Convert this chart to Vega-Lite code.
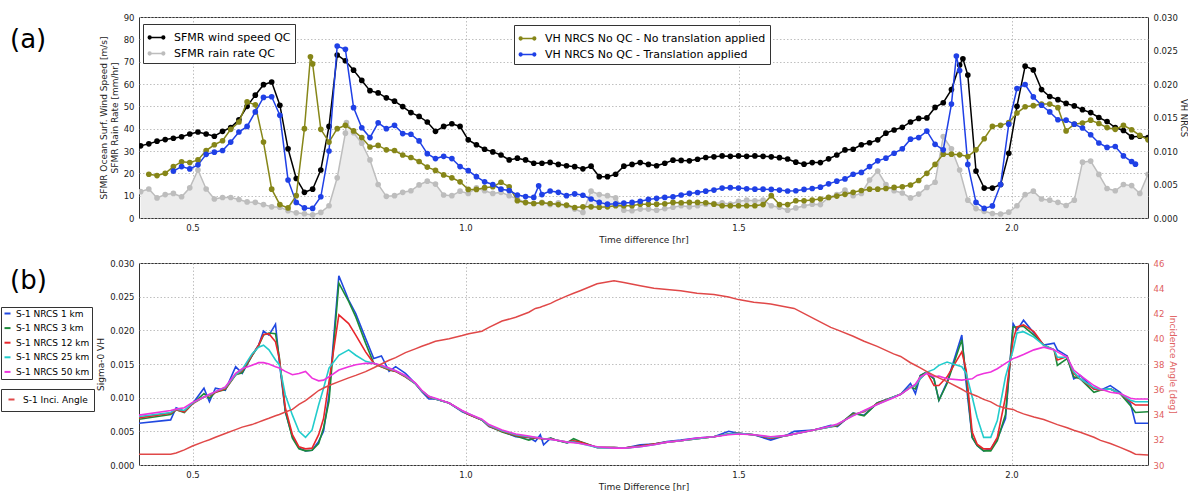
{
 "$schema": "https://vega.github.io/schema/vega-lite/v6.json",
 "padding": {"left": 0, "top": 12, "right": 0, "bottom": 0},
 "spacing": 13,
 "config": {
  "font": "DejaVu Sans",
  "view": {"stroke": "#333333", "strokeWidth": 1},
  "axis": {"labelFont": "DejaVu Sans", "labelFontSize": 8.5, "labelColor": "#222222", "titleFont": "DejaVu Sans", "titleFontSize": 9, "titleFontWeight": "normal", "titleColor": "#222222", "ticks": false, "domain": false, "gridColor": "#b0b0b0", "gridDash": [1.5, 2], "gridWidth": 0.8, "labelPadding": 5, "titlePadding": 4},
  "legend": {"labelFont": "DejaVu Sans", "strokeColor": "#333333", "fillColor": "#ffffff", "padding": 4, "cornerRadius": 0, "strokeWidth": 1, "titleFontSize": 0, "labelLimit": 400},
  "title": {"font": "DejaVu Sans", "color": "#000000"}
 },
 "datasets": {
  "a": [
   {"t":0.405,"ws":32.3,"rr":11.8,"nt":null,"tr":null},
   {"t":0.42,"ws":33.2,"rr":13,"nt":0.00653,"tr":null},
   {"t":0.435,"ws":34.4,"rr":9,"nt":0.00633,"tr":null},
   {"t":0.45,"ws":35.1,"rr":10.5,"nt":0.00667,"tr":null},
   {"t":0.465,"ws":35.7,"rr":11,"nt":0.00767,"tr":0.007},
   {"t":0.48,"ws":36.4,"rr":9.5,"nt":0.0084,"tr":0.00767},
   {"t":0.495,"ws":37.6,"rr":13.5,"nt":0.00827,"tr":0.00733},
   {"t":0.51,"ws":38.5,"rr":21.5,"nt":0.00867,"tr":0.00793},
   {"t":0.525,"ws":37.6,"rr":13,"nt":0.01007,"tr":0.0095},
   {"t":0.54,"ws":36.6,"rr":8.5,"nt":0.01093,"tr":0.00983},
   {"t":0.555,"ws":38.8,"rr":9.2,"nt":0.01153,"tr":0.01007},
   {"t":0.57,"ws":40.5,"rr":9.2,"nt":0.01323,"tr":0.01133},
   {"t":0.585,"ws":44,"rr":8.3,"nt":0.01433,"tr":0.01283},
   {"t":0.6,"ws":50,"rr":7.2,"nt":0.01733,"tr":0.01367},
   {"t":0.615,"ws":55,"rr":7,"nt":0.0169,"tr":0.01583},
   {"t":0.63,"ws":59.7,"rr":6,"nt":0.01133,"tr":0.018},
   {"t":0.645,"ws":60.9,"rr":5,"nt":0.0043,"tr":0.0181},
   {"t":0.66,"ws":50.5,"rr":4.8,"nt":0.002,"tr":0.01533},
   {"t":0.675,"ws":31,"rr":3.3,"nt":0.0015,"tr":0.00567},
   {"t":0.69,"ws":17.7,"rr":2.3,"nt":0.00333,"tr":0.00233},
   {"t":0.705,"ws":11.5,"rr":1.9,"nt":0.01333,"tr":0.0015},
   {"t":0.72,"ws":12.9,"rr":1.4,"nt":0.023,"tr":0.00143},
   {"t":0.735,"ws":21.5,"rr":2.5,"nt":0.01323,"tr":0.00317},
   {"t":0.75,"ws":41,"rr":5.5,"nt":0.01133,"tr":0.01},
   {"t":0.765,"ws":73,"rr":18,"nt":0.01333,"tr":0.02567},
   {"t":0.78,"ws":70.4,"rr":38,"nt":0.01383,"tr":0.02517},
   {"t":0.795,"ws":66.2,"rr":38.2,"nt":0.013,"tr":0.01647},
   {"t":0.81,"ws":61.6,"rr":33.5,"nt":0.012,"tr":0.01347},
   {"t":0.825,"ws":57,"rr":26,"nt":0.0106,"tr":0.012},
   {"t":0.84,"ws":56,"rr":15,"nt":0.01083,"tr":0.0142},
   {"t":0.855,"ws":53.8,"rr":9.7,"nt":0.01017,"tr":0.01333},
   {"t":0.87,"ws":52.3,"rr":10,"nt":0.01007,"tr":0.01383},
   {"t":0.885,"ws":49.9,"rr":11.5,"nt":0.0094,"tr":0.0126},
   {"t":0.9,"ws":47.2,"rr":12.2,"nt":0.00903,"tr":0.0125},
   {"t":0.915,"ws":45.5,"rr":14.8,"nt":0.00843,"tr":0.0115},
   {"t":0.93,"ws":43,"rr":16.5,"nt":0.0076,"tr":0.0096},
   {"t":0.945,"ws":38.8,"rr":15.2,"nt":0.0071,"tr":0.00887},
   {"t":0.96,"ws":41,"rr":10.3,"nt":0.00643,"tr":0.0092},
   {"t":0.975,"ws":42.2,"rr":10,"nt":0.006,"tr":0.00887},
   {"t":0.99,"ws":41,"rr":12,"nt":0.0054,"tr":0.00767},
   {"t":1.005,"ws":35,"rr":11,"nt":0.00427,"tr":0.00707},
   {"t":1.02,"ws":32.8,"rr":13.5,"nt":0.00427,"tr":0.00617},
   {"t":1.035,"ws":30.8,"rr":12.2,"nt":0.00453,"tr":0.0054},
   {"t":1.05,"ws":29.6,"rr":11,"nt":0.00467,"tr":0.005},
   {"t":1.065,"ws":28.2,"rr":11.5,"nt":0.00533,"tr":0.0043},
   {"t":1.08,"ws":26,"rr":10,"nt":0.00467,"tr":0.0041},
   {"t":1.095,"ws":26.8,"rr":8.5,"nt":0.00257,"tr":0.00343},
   {"t":1.11,"ws":26,"rr":7,"nt":0.0023,"tr":0.0032},
   {"t":1.125,"ws":24.5,"rr":6.5,"nt":0.00217,"tr":0.00307},
   {"t":1.14,"ws":24.5,"rr":7,"nt":0.00227,"tr":0.0035},
   {"t":1.155,"ws":24.9,"rr":6,"nt":0.00217,"tr":0.00403},
   {"t":1.17,"ws":24,"rr":6.8,"nt":0.002,"tr":0.00383},
   {"t":1.185,"ws":23.4,"rr":5.5,"nt":0.00193,"tr":0.00333},
   {"t":1.2,"ws":23,"rr":4,"nt":0.00157,"tr":0.0036},
   {"t":1.215,"ws":22,"rr":2.5,"nt":0.00167,"tr":0.0034},
   {"t":1.23,"ws":23.2,"rr":12,"nt":0.00167,"tr":0.00283},
   {"t":1.245,"ws":18.5,"rr":10.5,"nt":0.0016,"tr":0.00233},
   {"t":1.26,"ws":18.5,"rr":10,"nt":0.00167,"tr":0.00207},
   {"t":1.275,"ws":19.6,"rr":9,"nt":0.00183,"tr":0.00213},
   {"t":1.29,"ws":23.2,"rr":3.5,"nt":0.00183,"tr":0.00223},
   {"t":1.305,"ws":24,"rr":3.3,"nt":0.00183,"tr":0.00233},
   {"t":1.32,"ws":24.8,"rr":4,"nt":0.00207,"tr":0.0025},
   {"t":1.335,"ws":24,"rr":4,"nt":0.00207,"tr":0.00277},
   {"t":1.35,"ws":23.4,"rr":3.5,"nt":0.00207,"tr":0.00293},
   {"t":1.365,"ws":24.5,"rr":4.2,"nt":0.00213,"tr":0.00307},
   {"t":1.38,"ws":25.9,"rr":4.8,"nt":0.00233,"tr":0.00317},
   {"t":1.395,"ws":25.8,"rr":5.5,"nt":0.00227,"tr":0.00343},
   {"t":1.41,"ws":25.6,"rr":5,"nt":0.00233,"tr":0.00367},
   {"t":1.425,"ws":26.3,"rr":5.5,"nt":0.00233,"tr":0.0038},
   {"t":1.44,"ws":27.1,"rr":6.2,"nt":0.00227,"tr":0.004},
   {"t":1.455,"ws":27.4,"rr":6.5,"nt":0.00207,"tr":0.00417},
   {"t":1.47,"ws":27.8,"rr":6.8,"nt":0.00183,"tr":0.00447},
   {"t":1.485,"ws":27.6,"rr":6.2,"nt":0.00183,"tr":0.00453},
   {"t":1.5,"ws":27.8,"rr":7.5,"nt":0.00183,"tr":0.00447},
   {"t":1.515,"ws":27.6,"rr":8,"nt":0.00183,"tr":0.00437},
   {"t":1.53,"ws":27.8,"rr":7.7,"nt":0.00183,"tr":0.0043},
   {"t":1.545,"ws":27.6,"rr":8,"nt":0.002,"tr":0.0043},
   {"t":1.56,"ws":27.4,"rr":5.5,"nt":0.00333,"tr":0.00427},
   {"t":1.575,"ws":27,"rr":4.8,"nt":0.002,"tr":0.00417},
   {"t":1.59,"ws":26.4,"rr":3.5,"nt":0.002,"tr":0.00403},
   {"t":1.605,"ws":25,"rr":4.5,"nt":0.00257,"tr":0.00407},
   {"t":1.62,"ws":24.1,"rr":5.5,"nt":0.00257,"tr":0.00427},
   {"t":1.635,"ws":24.8,"rr":6.2,"nt":0.00267,"tr":0.0044},
   {"t":1.65,"ws":24.8,"rr":6,"nt":0.00283,"tr":0.0046},
   {"t":1.665,"ws":26.5,"rr":9.2,"nt":0.00307,"tr":0.0051},
   {"t":1.68,"ws":28.2,"rr":10.5,"nt":0.00327,"tr":0.0055},
   {"t":1.695,"ws":30.5,"rr":12.5,"nt":0.00353,"tr":0.00583},
   {"t":1.71,"ws":30.8,"rr":10,"nt":0.00383,"tr":0.00653},
   {"t":1.725,"ws":32.8,"rr":11,"nt":0.0041,"tr":0.0068},
   {"t":1.74,"ws":33.7,"rr":17,"nt":0.0043,"tr":0.00767},
   {"t":1.755,"ws":35,"rr":21,"nt":0.0043,"tr":0.00853},
   {"t":1.77,"ws":38,"rr":15,"nt":0.0044,"tr":0.00893},
   {"t":1.785,"ws":39.4,"rr":12.2,"nt":0.00457,"tr":0.00967},
   {"t":1.8,"ws":40.6,"rr":11.2,"nt":0.00467,"tr":0.01033},
   {"t":1.815,"ws":43,"rr":9,"nt":0.00493,"tr":0.01177},
   {"t":1.83,"ws":44.6,"rr":10.7,"nt":0.0056,"tr":0.012},
   {"t":1.845,"ws":44.8,"rr":13.7,"nt":0.00667,"tr":0.01297},
   {"t":1.86,"ws":49.5,"rr":16,"nt":0.008,"tr":0.011},
   {"t":1.875,"ws":51.6,"rr":36.5,"nt":0.00953,"tr":0.01017},
   {"t":1.89,"ws":57.5,"rr":31,"nt":0.00953,"tr":0.017},
   {"t":1.905,"ws":68.5,"rr":21.5,"nt":0.00943,"tr":0.022},
   {"t":1.92,"ws":64,"rr":8,"nt":0.00917,"tr":0.008},
   {"t":1.935,"ws":21,"rr":4.2,"nt":0.01017,"tr":0.00233},
   {"t":1.95,"ws":13.4,"rr":3,"nt":0.01183,"tr":0.00143},
   {"t":1.965,"ws":13.4,"rr":2,"nt":0.01367,"tr":0.0018},
   {"t":1.98,"ws":15,"rr":1.8,"nt":0.01383,"tr":0.005},
   {"t":1.995,"ws":29,"rr":2.6,"nt":0.01423,"tr":0.014},
   {"t":2.01,"ws":50,"rr":5.5,"nt":0.01567,"tr":0.01933},
   {"t":2.025,"ws":68,"rr":10.5,"nt":0.0166,"tr":0.01993},
   {"t":2.04,"ws":66.3,"rr":12,"nt":0.01677,"tr":0.01807},
   {"t":2.055,"ws":57.5,"rr":8.5,"nt":0.017,"tr":0.01683},
   {"t":2.07,"ws":54.4,"rr":8,"nt":0.017,"tr":0.01583},
   {"t":2.085,"ws":53,"rr":7,"nt":0.01647,"tr":0.01467},
   {"t":2.1,"ws":51.3,"rr":5.6,"nt":0.013,"tr":0.0146},
   {"t":2.115,"ws":50.2,"rr":8,"nt":0.014,"tr":0.014},
   {"t":2.13,"ws":48.5,"rr":25,"nt":0.01417,"tr":0.01343},
   {"t":2.145,"ws":47.2,"rr":25.5,"nt":0.0146,"tr":0.01243},
   {"t":2.16,"ws":45,"rr":19.5,"nt":0.0141,"tr":0.0112},
   {"t":2.175,"ws":43.2,"rr":13.2,"nt":0.0135,"tr":0.01053},
   {"t":2.19,"ws":40.5,"rr":12.2,"nt":0.01323,"tr":0.01067},
   {"t":2.205,"ws":39.2,"rr":15,"nt":0.01383,"tr":0.00927},
   {"t":2.22,"ws":36.3,"rr":14.5,"nt":0.01317,"tr":0.00843},
   {"t":2.235,"ws":36.6,"rr":11,"nt":0.01233,"tr":null},
   {"t":2.25,"ws":36,"rr":19.6,"nt":0.01167,"tr":null},
   {"t":0.716,"ws":null,"rr":null,"nt":0.02407,"tr":null},
   {"t":0.782,"ws":null,"rr":42.7,"nt":null,"tr":null},
   {"t":1.134,"ws":null,"rr":null,"nt":null,"tr":0.0048},
   {"t":1.899,"ws":null,"rr":null,"nt":null,"tr":0.02417},
   {"t":1.911,"ws":71.3,"rr":null,"nt":null,"tr":null},
   {"t":2.227,"ws":null,"rr":null,"nt":null,"tr":0.00803}
  ],
  "b": [
   {"t":0.402,"n1":0.0062,"n3":0.0068,"n12":0.007,"n25":0.0072,"n50":0.0074,"ang":30.85},
   {"t":0.46,"n1":0.0067,"n3":0.0075,"n12":0.0077,"n25":0.0078,"n50":0.0081,"ang":30.85},
   {"t":0.47,"n1":0.0085,"n3":0.0082,"n12":0.0082,"n25":0.0083,"n50":0.0083,"ang":30.95},
   {"t":0.485,"n1":0.008,"n3":0.0078,"n12":0.0079,"n25":0.0081,"n50":0.0085,"ang":31.2},
   {"t":0.5,"n1":0.0091,"n3":0.0091,"n12":0.0091,"n25":0.0092,"n50":0.0093,"ang":31.5},
   {"t":0.521,"n1":0.0114,"n3":0.0106,"n12":0.0101,"n25":0.0101,"n50":0.0101,"ang":31.85},
   {"t":0.531,"n1":0.0094,"n3":0.0099,"n12":0.0103,"n25":0.0104,"n50":0.0105,"ang":32.0},
   {"t":0.542,"n1":0.0114,"n3":0.0108,"n12":0.0108,"n25":0.0109,"n50":0.0109,"ang":32.2},
   {"t":0.56,"n1":0.0111,"n3":0.0112,"n12":0.0113,"n25":0.0115,"n50":0.0116,"ang":32.5},
   {"t":0.579,"n1":0.0146,"n3":0.0134,"n12":0.0134,"n25":0.0134,"n50":0.0136,"ang":32.8},
   {"t":0.591,"n1":0.0136,"n3":0.0137,"n12":0.014,"n25":0.0142,"n50":0.0143,"ang":33.0},
   {"t":0.609,"n1":0.0163,"n3":0.0162,"n12":0.0163,"n25":0.0165,"n50":0.0148,"ang":33.2},
   {"t":0.621,"n1":0.0178,"n3":0.0177,"n12":0.0178,"n25":0.0175,"n50":0.0152,"ang":33.4},
   {"t":0.63,"n1":0.0199,"n3":0.0193,"n12":0.0194,"n25":0.0178,"n50":0.0152,"ang":33.55},
   {"t":0.64,"n1":0.0193,"n3":0.0196,"n12":0.0195,"n25":0.0171,"n50":0.015,"ang":33.7},
   {"t":0.652,"n1":0.0209,"n3":0.0195,"n12":0.0183,"n25":0.0156,"n50":0.0146,"ang":33.9},
   {"t":0.659,"n1":0.0153,"n3":0.016,"n12":0.0158,"n25":0.0149,"n50":0.0144,"ang":34.0},
   {"t":0.67,"n1":0.0079,"n3":0.008,"n12":0.0085,"n25":0.0104,"n50":0.0139,"ang":34.2},
   {"t":0.683,"n1":0.0042,"n3":0.004,"n12":0.0045,"n25":0.0074,"n50":0.0134,"ang":34.4},
   {"t":0.695,"n1":0.0025,"n3":0.0024,"n12":0.0027,"n25":0.005,"n50":0.0136,"ang":34.8},
   {"t":0.707,"n1":0.0021,"n3":0.0021,"n12":0.0024,"n25":0.0041,"n50":0.0139,"ang":35.1},
   {"t":0.719,"n1":0.0022,"n3":0.0022,"n12":0.0025,"n25":0.0052,"n50":0.0129,"ang":35.5},
   {"t":0.731,"n1":0.0035,"n3":0.0032,"n12":0.0045,"n25":0.0089,"n50":0.0125,"ang":35.9},
   {"t":0.74,"n1":0.005,"n3":0.0055,"n12":0.0069,"n25":0.0114,"n50":0.0126,"ang":36.1},
   {"t":0.75,"n1":0.0104,"n3":0.0095,"n12":0.0124,"n25":0.0144,"n50":0.0131,"ang":36.3},
   {"t":0.768,"n1":0.0281,"n3":0.027,"n12":0.0223,"n25":0.0163,"n50":0.0141,"ang":36.6},
   {"t":0.786,"n1":0.0245,"n3":0.0243,"n12":0.021,"n25":0.0171,"n50":0.0146,"ang":36.9},
   {"t":0.799,"n1":0.0225,"n3":0.022,"n12":0.0193,"n25":0.0163,"n50":0.0149,"ang":37.1},
   {"t":0.817,"n1":0.0188,"n3":0.0181,"n12":0.0168,"n25":0.0154,"n50":0.0151,"ang":37.4},
   {"t":0.832,"n1":0.0158,"n3":0.0151,"n12":0.0151,"n25":0.0151,"n50":0.0151,"ang":37.7},
   {"t":0.846,"n1":0.0162,"n3":0.0146,"n12":0.0146,"n25":0.0147,"n50":0.0148,"ang":38.0},
   {"t":0.86,"n1":0.0139,"n3":0.0141,"n12":0.0142,"n25":0.0143,"n50":0.0144,"ang":38.3},
   {"t":0.872,"n1":0.0146,"n3":0.0139,"n12":0.0139,"n25":0.014,"n50":0.014,"ang":38.5},
   {"t":0.89,"n1":0.0136,"n3":0.0131,"n12":0.0131,"n25":0.0132,"n50":0.0133,"ang":38.9},
   {"t":0.908,"n1":0.0121,"n3":0.0121,"n12":0.0121,"n25":0.0121,"n50":0.0122,"ang":39.2},
   {"t":0.92,"n1":0.0109,"n3":0.011,"n12":0.011,"n25":0.011,"n50":0.0111,"ang":39.4},
   {"t":0.933,"n1":0.0098,"n3":0.0101,"n12":0.0101,"n25":0.0102,"n50":0.0102,"ang":39.6},
   {"t":0.945,"n1":0.0098,"n3":0.0098,"n12":0.0098,"n25":0.0098,"n50":0.0099,"ang":39.8},
   {"t":0.97,"n1":0.0092,"n3":0.0092,"n12":0.0092,"n25":0.0092,"n50":0.0092,"ang":40.0},
   {"t":0.994,"n1":0.0079,"n3":0.008,"n12":0.008,"n25":0.008,"n50":0.0081,"ang":40.25},
   {"t":1.006,"n1":0.0075,"n3":0.0075,"n12":0.0075,"n25":0.0076,"n50":0.0076,"ang":40.4},
   {"t":1.03,"n1":0.0067,"n3":0.0067,"n12":0.0067,"n25":0.0067,"n50":0.0068,"ang":40.6},
   {"t":1.043,"n1":0.0057,"n3":0.0058,"n12":0.0058,"n25":0.0059,"n50":0.006,"ang":40.9},
   {"t":1.067,"n1":0.005,"n3":0.0049,"n12":0.005,"n25":0.0051,"n50":0.0052,"ang":41.4},
   {"t":1.092,"n1":0.0042,"n3":0.0043,"n12":0.0044,"n25":0.0045,"n50":0.0046,"ang":41.7},
   {"t":1.116,"n1":0.0041,"n3":0.0037,"n12":0.0041,"n25":0.0042,"n50":0.0043,"ang":42.1},
   {"t":1.128,"n1":0.0035,"n3":0.004,"n12":0.004,"n25":0.0041,"n50":0.0041,"ang":42.4},
   {"t":1.137,"n1":0.0045,"n3":0.004,"n12":0.0039,"n25":0.004,"n50":0.004,"ang":42.5},
   {"t":1.143,"n1":0.003,"n3":0.0038,"n12":0.0039,"n25":0.0039,"n50":0.0039,"ang":42.6},
   {"t":1.156,"n1":0.004,"n3":0.004,"n12":0.0039,"n25":0.0038,"n50":0.0038,"ang":42.8},
   {"t":1.165,"n1":0.0037,"n3":0.0037,"n12":0.0037,"n25":0.0037,"n50":0.0037,"ang":43.0},
   {"t":1.186,"n1":0.0033,"n3":0.0033,"n12":0.0034,"n25":0.0034,"n50":0.0034,"ang":43.4},
   {"t":1.198,"n1":0.0035,"n3":0.0039,"n12":0.0036,"n25":0.0034,"n50":0.0033,"ang":43.6},
   {"t":1.21,"n1":0.0034,"n3":0.0035,"n12":0.0034,"n25":0.0032,"n50":0.0032,"ang":43.8},
   {"t":1.241,"n1":0.0026,"n3":0.0026,"n12":0.0026,"n25":0.0026,"n50":0.0027,"ang":44.35},
   {"t":1.272,"n1":0.0026,"n3":0.0026,"n12":0.0026,"n25":0.0025,"n50":0.0025,"ang":44.6},
   {"t":1.29,"n1":0.0025,"n3":0.0025,"n12":0.0025,"n25":0.0025,"n50":0.0025,"ang":44.45},
   {"t":1.32,"n1":0.003,"n3":0.0028,"n12":0.0028,"n25":0.0027,"n50":0.0027,"ang":44.2},
   {"t":1.345,"n1":0.0031,"n3":0.0031,"n12":0.0031,"n25":0.003,"n50":0.003,"ang":44.0},
   {"t":1.369,"n1":0.0035,"n3":0.0034,"n12":0.0034,"n25":0.0034,"n50":0.0034,"ang":43.9},
   {"t":1.394,"n1":0.0037,"n3":0.0036,"n12":0.0036,"n25":0.0036,"n50":0.0036,"ang":43.8},
   {"t":1.424,"n1":0.004,"n3":0.0039,"n12":0.0039,"n25":0.0039,"n50":0.004,"ang":43.6},
   {"t":1.455,"n1":0.0042,"n3":0.0042,"n12":0.0042,"n25":0.0042,"n50":0.0042,"ang":43.5},
   {"t":1.482,"n1":0.005,"n3":0.0046,"n12":0.0046,"n25":0.0046,"n50":0.0045,"ang":43.3},
   {"t":1.5,"n1":0.0047,"n3":0.0047,"n12":0.0047,"n25":0.0047,"n50":0.0046,"ang":43.1},
   {"t":1.528,"n1":0.0045,"n3":0.0045,"n12":0.0045,"n25":0.0045,"n50":0.0045,"ang":42.9},
   {"t":1.559,"n1":0.0037,"n3":0.004,"n12":0.004,"n25":0.0041,"n50":0.0042,"ang":42.75},
   {"t":1.59,"n1":0.0045,"n3":0.0044,"n12":0.0044,"n25":0.0044,"n50":0.0044,"ang":42.5},
   {"t":1.602,"n1":0.005,"n3":0.0046,"n12":0.0046,"n25":0.0046,"n50":0.0046,"ang":42.4},
   {"t":1.638,"n1":0.0052,"n3":0.0052,"n12":0.0052,"n25":0.0052,"n50":0.0052,"ang":41.6},
   {"t":1.669,"n1":0.0059,"n3":0.0057,"n12":0.0057,"n25":0.0057,"n50":0.0058,"ang":40.9},
   {"t":1.681,"n1":0.0057,"n3":0.0058,"n12":0.0059,"n25":0.006,"n50":0.0061,"ang":40.7},
   {"t":1.71,"n1":0.0077,"n3":0.0077,"n12":0.0075,"n25":0.0074,"n50":0.0073,"ang":40.2},
   {"t":1.73,"n1":0.0074,"n3":0.0073,"n12":0.0079,"n25":0.008,"n50":0.0081,"ang":39.8},
   {"t":1.754,"n1":0.0092,"n3":0.0092,"n12":0.0091,"n25":0.009,"n50":0.009,"ang":39.4},
   {"t":1.784,"n1":0.0101,"n3":0.0101,"n12":0.0101,"n25":0.0101,"n50":0.01,"ang":38.8},
   {"t":1.797,"n1":0.0105,"n3":0.0105,"n12":0.0105,"n25":0.0105,"n50":0.0105,"ang":38.6},
   {"t":1.815,"n1":0.0121,"n3":0.0116,"n12":0.0116,"n25":0.0116,"n50":0.0115,"ang":38.1},
   {"t":1.824,"n1":0.0106,"n3":0.0113,"n12":0.0118,"n25":0.0118,"n50":0.012,"ang":37.9},
   {"t":1.833,"n1":0.0133,"n3":0.0133,"n12":0.0128,"n25":0.0128,"n50":0.0131,"ang":37.7},
   {"t":1.845,"n1":0.0138,"n3":0.0138,"n12":0.0138,"n25":0.0138,"n50":0.0136,"ang":37.4},
   {"t":1.858,"n1":0.0128,"n3":0.0128,"n12":0.0118,"n25":0.0142,"n50":0.0131,"ang":37.1},
   {"t":1.867,"n1":0.0096,"n3":0.0096,"n12":0.0118,"n25":0.0148,"n50":0.0132,"ang":36.9},
   {"t":1.882,"n1":0.0123,"n3":0.0121,"n12":0.0131,"n25":0.0153,"n50":0.0128,"ang":36.6},
   {"t":1.909,"n1":0.0193,"n3":0.0186,"n12":0.0168,"n25":0.0146,"n50":0.0126,"ang":36.0},
   {"t":1.917,"n1":0.0121,"n3":0.0131,"n12":0.0141,"n25":0.0136,"n50":0.0127,"ang":35.8},
   {"t":1.928,"n1":0.0041,"n3":0.0041,"n12":0.0049,"n25":0.0101,"n50":0.0128,"ang":35.6},
   {"t":1.937,"n1":0.0029,"n3":0.0029,"n12":0.0031,"n25":0.0071,"n50":0.0133,"ang":35.45},
   {"t":1.949,"n1":0.0021,"n3":0.0021,"n12":0.0024,"n25":0.0041,"n50":0.0136,"ang":35.2},
   {"t":1.962,"n1":0.0024,"n3":0.0021,"n12":0.0024,"n25":0.0041,"n50":0.0138,"ang":35.0},
   {"t":1.974,"n1":0.0039,"n3":0.0036,"n12":0.0041,"n25":0.0066,"n50":0.0143,"ang":34.7},
   {"t":1.989,"n1":0.0069,"n3":0.0075,"n12":0.0101,"n25":0.0131,"n50":0.0151,"ang":34.5},
   {"t":2.003,"n1":0.021,"n3":0.0205,"n12":0.0186,"n25":0.0171,"n50":0.0158,"ang":34.4},
   {"t":2.01,"n1":0.02,"n3":0.0205,"n12":0.0205,"n25":0.0196,"n50":0.016,"ang":34.25},
   {"t":2.022,"n1":0.0215,"n3":0.0206,"n12":0.0208,"n25":0.0198,"n50":0.0164,"ang":34.05},
   {"t":2.041,"n1":0.0196,"n3":0.0193,"n12":0.0198,"n25":0.019,"n50":0.0171,"ang":33.8},
   {"t":2.059,"n1":0.0178,"n3":0.0178,"n12":0.0178,"n25":0.0178,"n50":0.0175,"ang":33.6},
   {"t":2.078,"n1":0.0181,"n3":0.0171,"n12":0.0171,"n25":0.0171,"n50":0.0171,"ang":33.3},
   {"t":2.084,"n1":0.0171,"n3":0.0148,"n12":0.0156,"n25":0.016,"n50":0.0168,"ang":33.2},
   {"t":2.102,"n1":0.0162,"n3":0.0158,"n12":0.0161,"n25":0.016,"n50":0.016,"ang":32.95},
   {"t":2.114,"n1":0.0128,"n3":0.0131,"n12":0.0136,"n25":0.0138,"n50":0.0141,"ang":32.75},
   {"t":2.126,"n1":0.0133,"n3":0.0128,"n12":0.0128,"n25":0.0128,"n50":0.0133,"ang":32.6},
   {"t":2.151,"n1":0.0113,"n3":0.0108,"n12":0.0113,"n25":0.0115,"n50":0.0118,"ang":32.2},
   {"t":2.163,"n1":0.0111,"n3":0.0111,"n12":0.0111,"n25":0.0112,"n50":0.0113,"ang":31.95},
   {"t":2.181,"n1":0.0118,"n3":0.0113,"n12":0.0113,"n25":0.0113,"n50":0.0108,"ang":31.7},
   {"t":2.199,"n1":0.0108,"n3":0.0106,"n12":0.0106,"n25":0.0106,"n50":0.0106,"ang":31.4},
   {"t":2.218,"n1":0.0091,"n3":0.0088,"n12":0.0094,"n25":0.0096,"n50":0.0099,"ang":31.05},
   {"t":2.227,"n1":0.0062,"n3":0.0078,"n12":0.0089,"n25":0.0094,"n50":0.0098,"ang":30.85},
   {"t":2.25,"n1":0.0062,"n3":0.0079,"n12":0.0089,"n25":0.0094,"n50":0.0098,"ang":30.8}
  ]
 },
 "vconcat": [
  {
   "width": 1009,
   "height": 201,
   "title": {"text": "(a)", "orient": "top", "anchor": "start", "frame": "group", "dx": -129, "dy": 40, "baseline": "top", "offset": 0, "fontSize": 26, "fontWeight": "normal"},
   "data": {"name": "a"},
   "layer": [
    {
     "transform": [{"fold": ["ws", "rr"], "as": ["key", "value"]}, {"filter": "isValid(datum.value)"}],
     "encoding": {
      "x": {"field": "t", "type": "quantitative", "scale": {"domain": [0.402, 2.25], "nice": false, "zero": false}, "axis": {"values": [0.5, 1.0, 1.5, 2.0], "format": ".1f", "title": "Time difference [hr]", "grid": true}},
      "y": {"field": "value", "type": "quantitative", "scale": {"domain": [0, 90], "nice": false}, "axis": {"values": [0, 10, 20, 30, 40, 50, 60, 70, 80, 90], "format": "d", "grid": true, "title": ["SFMR Ocean Surf. Wind Speed [m/s]", "SFMR Rain Rate [mm/hr]"], "titleLineHeight": 11}}
     },
     "layer": [
      {"transform": [{"filter": "datum.key === 'rr'"}], "mark": {"type": "area", "color": "#ececec", "clip": true}},
      {
       "mark": {"type": "line", "strokeWidth": 1.5, "clip": true, "point": {"filled": true, "size": 32}},
       "encoding": {
        "color": {"field": "key", "type": "nominal", "scale": {"domain": ["ws", "rr"], "range": ["#000000", "#bdbdbd"]},
         "legend": {"orient": "none", "legendX": 4, "legendY": 7, "title": null, "labelFontSize": 11, "labelExpr": "datum.value === 'ws' ? 'SFMR wind speed QC' : 'SFMR rain rate QC'", "symbolType": "M-1,0L1,0M-0.95,0a0.16,0.16 0 1,0 0.32,0a0.16,0.16 0 1,0 -0.32,0M0.63,0a0.16,0.16 0 1,0 0.32,0a0.16,0.16 0 1,0 -0.32,0", "symbolSize": 300, "symbolStrokeWidth": 1.5, "rowPadding": 1, "labelOffset": 8,
          "encode": {"symbols": {"update": {"fill": {"signal": "datum.value === 'ws' ? '#000000' : '#bdbdbd'"}, "stroke": {"signal": "datum.value === 'ws' ? '#000000' : '#bdbdbd'"}, "fillOpacity": {"value": 1}, "strokeOpacity": {"value": 1}}}}}
        }
       }
      }
     ]
    },
    {
     "transform": [{"fold": ["nt", "tr"], "as": ["key", "value"]}, {"filter": "isValid(datum.value)"}],
     "mark": {"type": "line", "strokeWidth": 1.5, "clip": true, "point": {"filled": true, "size": 32}},
     "encoding": {
      "x": {"field": "t", "type": "quantitative", "scale": {"domain": [0.402, 2.25], "nice": false, "zero": false}, "axis": {"values": [0.5, 1.0, 1.5, 2.0], "format": ".1f", "title": "Time difference [hr]", "grid": true}},
      "y": {"field": "value", "type": "quantitative", "scale": {"domain": [0, 0.03], "nice": false}, "axis": {"orient": "right", "values": [0, 0.005, 0.01, 0.015, 0.02, 0.025, 0.03], "format": ".3f", "grid": false, "title": "VH NRCS", "titlePadding": 1, "titleFontSize": 8.5}},
      "color": {"field": "key", "type": "nominal", "scale": {"domain": ["nt", "tr"], "range": ["#868618", "#1f40e6"]},
       "legend": {"orient": "none", "legendX": 375, "legendY": 8, "title": null, "labelFontSize": 11, "labelExpr": "datum.value === 'nt' ? 'VH NRCS No QC - No translation applied' : 'VH NRCS No QC  - Translation applied'", "symbolType": "M-1,0L1,0M-0.95,0a0.16,0.16 0 1,0 0.32,0a0.16,0.16 0 1,0 -0.32,0M0.63,0a0.16,0.16 0 1,0 0.32,0a0.16,0.16 0 1,0 -0.32,0", "symbolSize": 300, "symbolStrokeWidth": 1.5, "rowPadding": 1, "labelOffset": 8,
        "encode": {"symbols": {"update": {"fill": {"signal": "datum.value === 'nt' ? '#868618' : '#1f40e6'"}, "stroke": {"signal": "datum.value === 'nt' ? '#868618' : '#1f40e6'"}, "fillOpacity": {"value": 1}, "strokeOpacity": {"value": 1}}}}}
      }
     }
    }
   ],
   "resolve": {"scale": {"y": "independent", "color": "independent"}}
  },
  {
   "width": 1009,
   "height": 202,
   "title": {"text": "(b)", "orient": "top", "anchor": "start", "frame": "group", "dx": -129, "dy": 35, "baseline": "top", "offset": 0, "fontSize": 26, "fontWeight": "normal"},
   "data": {"name": "b"},
   "layer": [
    {
     "transform": [{"fold": ["n1", "n3", "n12", "n25", "n50"], "as": ["key", "value"]}],
     "mark": {"type": "line", "strokeWidth": 1.6, "clip": true},
     "encoding": {
      "x": {"field": "t", "type": "quantitative", "scale": {"domain": [0.402, 2.25], "nice": false, "zero": false}, "axis": {"values": [0.5, 1.0, 1.5, 2.0], "format": ".1f", "title": "Time Difference [hr]", "grid": true}},
      "y": {"field": "value", "type": "quantitative", "scale": {"domain": [0, 0.03], "nice": false}, "axis": {"values": [0, 0.005, 0.01, 0.015, 0.02, 0.025, 0.03], "format": ".3f", "grid": true, "title": "Sigma-0 VH"}},
      "color": {"field": "key", "type": "nominal", "scale": {"domain": ["n1", "n3", "n12", "n25", "n50"], "range": ["#2048e0", "#1c8a3a", "#e8262c", "#22cccc", "#ee33dd"]},
       "legend": {"orient": "none", "legendX": -138, "legendY": 44, "title": null, "labelFontSize": 9, "symbolType": "stroke", "symbolSize": 36, "symbolStrokeWidth": 2, "rowPadding": 4.6, "padding": 2, "labelOffset": 4,
        "labelExpr": "datum.value === 'n1' ? 'S-1 NRCS 1 km' : datum.value === 'n3' ? 'S-1 NRCS 3 km' : datum.value === 'n12' ? 'S-1 NRCS 12 km' : datum.value === 'n25' ? 'S-1 NRCS 25 km' : 'S-1 NRCS 50 km'"}}
     }
    },
    {
     "mark": {"type": "line", "strokeWidth": 1.5, "clip": true},
     "encoding": {
      "x": {"field": "t", "type": "quantitative", "scale": {"domain": [0.402, 2.25], "nice": false, "zero": false}, "axis": {"values": [0.5, 1.0, 1.5, 2.0], "format": ".1f", "title": "Time Difference [hr]", "grid": true}},
      "y": {"field": "ang", "type": "quantitative", "scale": {"domain": [30, 46], "nice": false, "zero": false}, "axis": {"orient": "right", "values": [30, 32, 34, 36, 38, 40, 42, 44, 46], "format": "d", "grid": false, "title": "Incidence Angle [deg]", "labelColor": "#e06060", "titleColor": "#e06060"}},
      "color": {"datum": "S-1 Inci. Angle", "type": "nominal", "scale": {"range": ["#e04848"]},
       "legend": {"orient": "none", "legendX": -138, "legendY": 126, "title": null, "labelFontSize": 9, "symbolType": "stroke", "symbolSize": 36, "symbolStrokeWidth": 2, "padding": 6, "labelOffset": 7}}
     }
    }
   ],
   "resolve": {"scale": {"y": "independent", "color": "independent"}}
  }
 ]
}
